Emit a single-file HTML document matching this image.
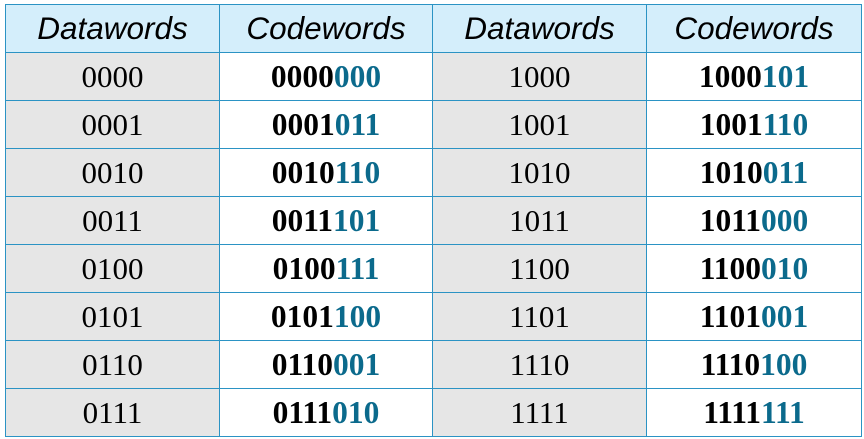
<!DOCTYPE html>
<html><head><style>
body{margin:0;width:864px;height:439px;background:#fff;overflow:hidden}
.c{position:absolute;box-sizing:border-box;border:1.5px solid #2b93c4;display:flex;align-items:center;justify-content:center}
.h{background:#d4eefb;font:italic 31.5px "Liberation Sans",sans-serif;color:#000}
.d{background:#e6e6e6;font:31px "Liberation Serif",serif}
.w{background:#fff;font:bold 31.5px "Liberation Serif",serif}
.w span{color:#0b6a8c}
</style></head><body>
<div id="t"></div>
<script>
var xs=[5,219,432,646,861],y0=4,hh=48,rh=48;
var H=["Datawords","Codewords","Datawords","Codewords"];
var C=["0000000","0001011","0010110","0011101","0100111","0101100","0110001","0111010","1000101","1001110","1010011","1011000","1100010","1101001","1110100","1111111"];
var s='';
for(var i=0;i<4;i++)s+='<div class="c h" style="left:'+xs[i]+'px;top:'+y0+'px;width:'+(xs[i+1]-xs[i]+1)+'px;height:'+(hh+1)+'px">'+H[i]+'</div>';
for(var r=0;r<8;r++){var y=y0+hh+r*rh;
[[r,0],[r+8,2]].forEach(function(q){var c=C[q[0]],d=c.slice(0,4),k=q[1];
s+='<div class="c d" style="left:'+xs[k]+'px;top:'+y+'px;width:'+(xs[k+1]-xs[k]+1)+'px;height:'+(rh+1)+'px">'+d+'</div>';
s+='<div class="c w" style="left:'+xs[k+1]+'px;top:'+y+'px;width:'+(xs[k+2]-xs[k+1]+1)+'px;height:'+(rh+1)+'px">'+d+'<span>'+c.slice(4)+'</span></div>';});}
document.getElementById('t').innerHTML=s;
</script>
</body></html>
